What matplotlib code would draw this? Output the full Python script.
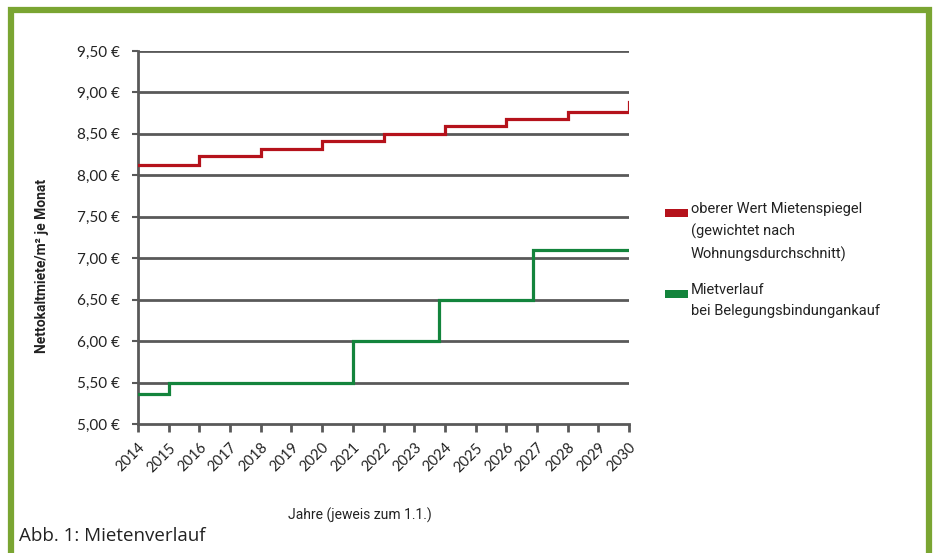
import datetime as dt
import matplotlib
matplotlib.use("Agg")
import matplotlib.pyplot as plt
import matplotlib.dates as mdates
from matplotlib.patches import Rectangle

# Rent per m² (net, cold) – upper value of the rent index, changes every two years
mietspiegel_dates = [dt.date(2014, 1, 1), dt.date(2016, 1, 1), dt.date(2018, 1, 1),
                     dt.date(2020, 1, 1), dt.date(2022, 1, 1), dt.date(2024, 1, 1),
                     dt.date(2026, 1, 1), dt.date(2028, 1, 1), dt.date(2030, 1, 1)]
mietspiegel_values = [8.12, 8.23, 8.32, 8.41, 8.50, 8.59, 8.68, 8.77, 8.88]

# Rent development when buying occupancy rights
mietverlauf_dates = [dt.date(2014, 1, 1), dt.date(2015, 1, 1), dt.date(2021, 1, 1),
                     dt.date(2023, 10, 25), dt.date(2026, 11, 15), dt.date(2030, 1, 1)]
mietverlauf_values = [5.36, 5.50, 6.00, 6.50, 7.10, 7.10]

years = list(range(2014, 2031))
y_ticks = [5.00, 5.50, 6.00, 6.50, 7.00, 7.50, 8.00, 8.50, 9.00, 9.50]

label_red = "oberer Wert Mietenspiegel\n(gewichtet nach\nWohnungsdurchschnitt)"
label_green = "Mietverlauf\nbei Belegungsbindungankauf"

RED = "#B5121B"
GREEN = "#13843C"
GRID = "#595959"
FRAME = "#7AA532"

narrow = ["Liberation Sans Narrow", "Roboto", "DejaVu Sans"]
tickfont = ["Lato", "DejaVu Sans"]

fig = plt.figure(figsize=(9.34, 5.53), dpi=100)
fig.patch.set_facecolor("white")

# green frame around the figure
fig.patches.append(Rectangle((10.5 / 934, -0.05), (928.5 - 10.5) / 934, 1.05 - 10 / 553,
                             transform=fig.transFigure, fill=False,
                             edgecolor=FRAME, linewidth=4.5, zorder=0))

ax = fig.add_axes([138 / 934, 1 - 424 / 553, (629 - 138) / 934, (424 - 51) / 553])

x0 = mdates.date2num(dt.date(2014, 1, 1))
x1 = mdates.date2num(dt.date(2030, 1, 1))
ax.set_xlim(x0, x1)
ax.set_ylim(5.0, 9.5)

for v in y_ticks[1:]:
    ax.axhline(v, color=GRID, linewidth=2.0, zorder=1)

ax.step([mdates.date2num(d) for d in mietspiegel_dates], mietspiegel_values,
        where="post", color=RED, linewidth=2.3, zorder=3, solid_joinstyle="miter")
ax.step([mdates.date2num(d) for d in mietverlauf_dates], mietverlauf_values,
        where="post", color=GREEN, linewidth=2.3, zorder=3, solid_joinstyle="miter")

for s in ["top", "right"]:
    ax.spines[s].set_visible(False)
for s in ["left", "bottom"]:
    ax.spines[s].set_color(GRID)
    ax.spines[s].set_linewidth(2.0)

ax.set_yticks(y_ticks)
ax.set_yticklabels([f"{v:.2f} €".replace(".", ",") for v in y_ticks],
                   fontfamily=tickfont, fontsize=11, color="#222222")
ax.set_xticks([mdates.date2num(dt.date(y, 1, 1)) for y in years])
ax.set_xticklabels([str(y) for y in years], rotation=45, ha="right",
                   rotation_mode="anchor", fontfamily=tickfont, fontsize=10.5,
                   color="#222222")
ax.tick_params(axis="x", length=6, width=2, color=GRID, pad=6)
ax.tick_params(axis="y", length=4, width=1.5, color=GRID, pad=9)

fig.text(42 / 934, 1 - 266 / 553, "Nettokaltmiete/m² je Monat", rotation=90,
         ha="center", va="center", fontsize=10, fontweight="bold",
         fontfamily=narrow, color="#222222")
fig.text(360 / 934, 1 - 515 / 553, "Jahre (jeweis zum 1.1.)", ha="center",
         va="center", fontsize=10, fontfamily=narrow, color="#222222")
fig.text(19 / 934, 1 - 536 / 553, "Abb. 1: Mietenverlauf", ha="left",
         va="center", fontsize=13.5, fontfamily=["Open Sans", "DejaVu Sans"],
         color="#222222")

# legend
for (yc, col, txt) in [(213, RED, label_red), (294, GREEN, label_green)]:
    fig.patches.append(Rectangle((665 / 934, 1 - (yc + 4) / 553), 23 / 934, 8 / 553,
                                 transform=fig.transFigure, facecolor=col,
                                 edgecolor="none"))
    fig.text(691 / 934, 1 - (yc - 11) / 553, txt, ha="left", va="top",
             fontsize=10.5, fontfamily=narrow, color="#222222", linespacing=1.65)

fig.savefig("out.png", dpi=100, facecolor="white")
